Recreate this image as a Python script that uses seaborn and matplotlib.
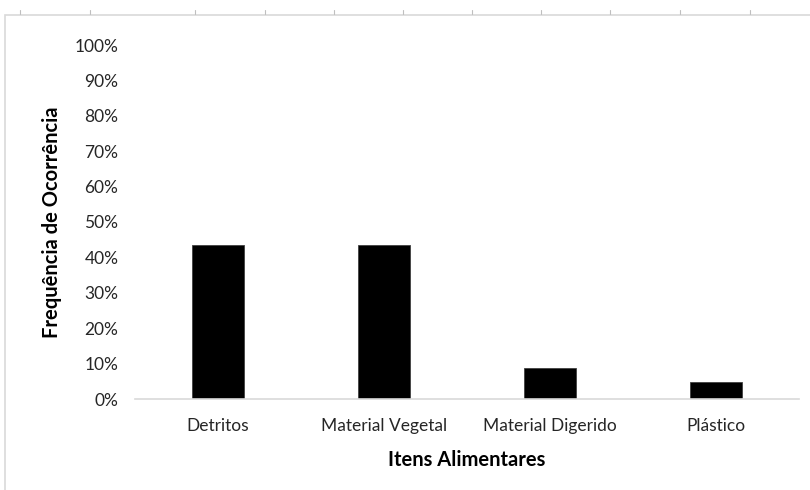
import matplotlib
matplotlib.use("Agg")
import matplotlib.pyplot as plt
import seaborn as sns
import pandas as pd
from matplotlib.patches import Rectangle
from matplotlib.ticker import PercentFormatter

categories = ["Detritos", "Material Vegetal", "Material Digerido", "Plástico"]
values = [0.435, 0.435, 0.087, 0.048]
yticks = [0, 0.1, 0.2, 0.3, 0.4, 0.5, 0.6, 0.7, 0.8, 0.9, 1.0]

sns.set_theme(style="white")
plt.rcParams["font.family"] = ["Lato", "DejaVu Sans"]

df = pd.DataFrame({"cat": categories, "val": values})

fig = plt.figure(figsize=(8.1, 4.9), dpi=100)
ax = fig.add_axes([135/810, 1-399/490, 664/810, 354/490])
sns.barplot(data=df, x="cat", y="val", color="black", width=0.31,
            edgecolor="#404040", linewidth=0.6, ax=ax, saturation=1)

ax.set_ylim(0, 1)
ax.set_yticks(yticks)
ax.yaxis.set_major_formatter(PercentFormatter(1.0, decimals=0))
ax.tick_params(axis="both", length=0, labelsize=12.5, colors="#262626")
ax.tick_params(axis="y", pad=12)
ax.tick_params(axis="x", pad=14)
for s in ["top", "right", "left"]:
    ax.spines[s].set_visible(False)
ax.spines["bottom"].set_color("#d9d9d9")
ax.spines["bottom"].set_linewidth(1.2)
ax.set_xlabel("Itens Alimentares", fontsize=14.5, fontweight="bold", color="black", labelpad=11)
ax.set_ylabel("Frequência de Ocorrência", fontsize=14.5, fontweight="bold", color="black", labelpad=9)

# chart frame (Excel-style)
fig.patches.append(Rectangle((5/810, -0.1), 1.1, 1-15/490+0.1, transform=fig.transFigure,
                             fill=False, edgecolor="#d9d9d9", linewidth=1.2))
for xp in [20, 90, 195, 265, 334, 403, 472, 541, 610, 680, 750]:
    fig.lines.append(plt.Line2D([xp/810, xp/810], [1-10/490, 1-14/490], transform=fig.transFigure,
                                color="#bfbfbf", linewidth=0.8))

fig.savefig("out.png", dpi=100)
